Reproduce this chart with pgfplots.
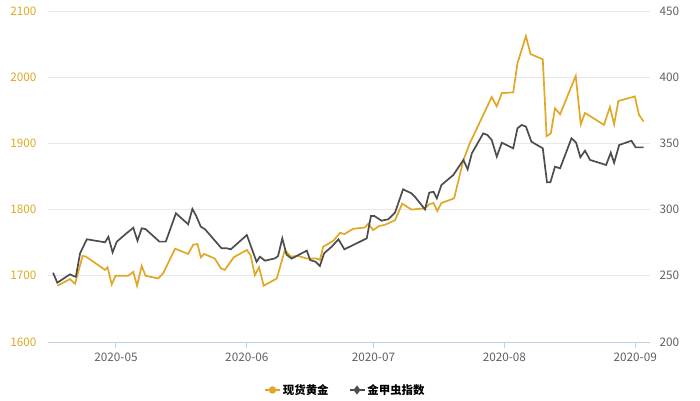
\documentclass[border=0pt]{standalone}
\usepackage{pgfplots}
\pgfplotsset{compat=1.18}
\usepackage{fontspec}
\setmainfont{Noto Sans CJK SC}
\definecolor{gold}{RGB}{224,168,36}
\definecolor{dark}{RGB}{77,77,77}
\definecolor{gridc}{RGB}{232,232,232}
\definecolor{axc}{RGB}{190,208,228}
\definecolor{lab}{RGB}{96,96,96}
\begin{document}
\begin{tikzpicture}[x=1bp,y=1bp]
\useasboundingbox (0,0) rectangle (700,400);
\pgfplotsset{
  base/.style={
    width=602bp, height=331bp, scale only axis,
    at={(48bp,58bp)}, anchor=south west,
    xmin=-16.1, xmax=126.5,
    /pgf/number format/assume math mode=true,
    tick label style={font=\fontsize{11.8}{14}\selectfont},
    /pgf/number format/.cd, 1000 sep={},
  },
}
\begin{axis}[base,
  ymin=1600, ymax=2100, ytick={1600,1700,...,2100},
  axis x line*=bottom, axis y line*=left,
  y axis line style={draw=none},
  x axis line style={draw=axc, line width=1bp},
  ymajorgrids, grid style={draw=gridc, line width=1bp},
  ytick style={draw=none},
  yticklabel style={text=gold, xshift=-8bp},
  xtick={0,31,61,92,123},
  xticklabels={2020-05,2020-06,2020-07,2020-08,2020-09},
  xtick align=outside,
  xtick style={draw=axc, line width=1bp},
  major tick length=6bp,
  xticklabel style={text=lab, yshift=-1bp},
  legend style={at={(0.494,-0.145)}, anchor=center, draw=none, fill=none,
    font=\fontsize{11.5}{13}\selectfont\bfseries, legend columns=2,
    /tikz/every even column/.append style={column sep=18bp}},
  legend image code/.code={\draw[#1, mark repeat=2, mark phase=2] plot coordinates {(0bp,0bp)(7.5bp,0bp)(15bp,0bp)};},
]
\addplot[gold, line width=1.7bp, forget plot] coordinates {
(-13.9,1685) (-10.9,1695) (-9.7,1688) (-7.9,1730) (-7.1,1729) (-2.6,1709) (-2.0,1713) (-1.0,1687) (-0.1,1700) (2.9,1700) (4.1,1706) (5.0,1685) (6.1,1715) (7.0,1700) (10.0,1696) (11.2,1704) (14.0,1741) (17.1,1733) (18.3,1747) (19.3,1748) (20.1,1728) (20.9,1733) (23.4,1726) (24.9,1711) (25.8,1709) (27.9,1728) (31.0,1739) (31.9,1731) (32.9,1701) (33.9,1713) (35.0,1685) (38.1,1696) (40.0,1739) (41.4,1729) (43.2,1730) (45.2,1726) (47.5,1726) (48.3,1724) (49.1,1744) (51.5,1753) (53.1,1765) (54.1,1763) (56.2,1771) (59.0,1773) (59.8,1779) (60.9,1769) (62.3,1775) (63.7,1777) (66.1,1784) (67.8,1809) (70.0,1800) (73.2,1802) (74.2,1808) (75.2,1810) (76.1,1798) (77.1,1810) (80.1,1817) (82.3,1875) (83.8,1900) (89.0,1970) (90.2,1956) (91.4,1976) (94.1,1977) (95.1,2021) (97.1,2062) (98.2,2035) (101.1,2027) (102.0,1911) (103.0,1915) (104.0,1953) (105.2,1944) (108.9,2002) (110.1,1929) (111.1,1946) (115.6,1928) (117.0,1955) (118.0,1929) (119.0,1964) (122.9,1971) (123.9,1943) (125.0,1933)
};
\addlegendimage{gold, line width=1.7bp, mark=*, mark size=2.8bp, mark options={solid}}
\addlegendentry{现货黄金}
\addlegendimage{dark, line width=1.7bp, mark=diamond*, mark size=3.2bp, mark options={solid}}
\addlegendentry{金甲虫指数}
\end{axis}
\begin{axis}[base,
  ymin=200, ymax=450, ytick={200,250,...,450},
  axis x line=none, axis y line*=right,
  y axis line style={draw=none},
  ytick style={draw=none},
  yticklabel style={text=lab, xshift=6bp},
]
\addplot[dark, line width=1.7bp] coordinates {
(-14.9,252.3) (-13.9,244.8) (-10.9,251.1) (-9.9,249.6) (-9.5,249.3) (-8.5,267) (-6.9,277.6) (-2.6,275.3) (-1.8,279.5) (-0.8,267.7) (0.2,275.8) (2.5,282.1) (4.1,286.3) (5.1,276.5) (6.1,285.9) (7.0,285.3) (10.3,275.8) (11.8,275.8) (14.2,297.2) (17.1,288.9) (18.1,300.5) (18.9,295.9) (20.1,287.1) (21.1,285.1) (25.0,270.8) (26.2,270.8) (27.2,270) (31.0,280.8) (33.3,260.6) (34.1,264.4) (35.3,261.4) (37.7,263.2) (38.4,265) (39.4,278.3) (40.4,266) (41.6,263) (45.2,269) (46.0,261.9) (47.3,260.6) (48.3,257.4) (49.3,267) (51.1,272) (52.7,277.6) (54.1,270) (57.0,274.5) (59.4,278.3) (60.4,295.2) (61.2,295.2) (62.9,291.6) (64.5,292.7) (66.1,297.7) (68.0,315.3) (70.0,312.3) (70.8,309.7) (73.2,300.2) (74.2,312.8) (75.2,313.5) (76.0,308.5) (77.1,318.6) (79.9,326.1) (82.3,337.5) (83.3,330.4) (84.3,342.5) (87.0,357.6) (88.0,356.3) (89.0,352.6) (90.2,340) (91.4,350.5) (94.1,346.3) (95.1,361.4) (96.1,363.9) (97.1,362.7) (98.4,351.3) (101.1,346.3) (102.1,320.6) (102.9,320.6) (104.0,332.4) (105.2,331.2) (107.9,353.9) (109.0,350.5) (110.0,339.5) (111.1,344.5) (112.3,337.5) (116.1,333.7) (117.2,343) (118.0,335.4) (119.2,348.8) (122.1,352) (123.1,347) (125.0,347)
};
\end{axis}
\end{tikzpicture}
\end{document}
